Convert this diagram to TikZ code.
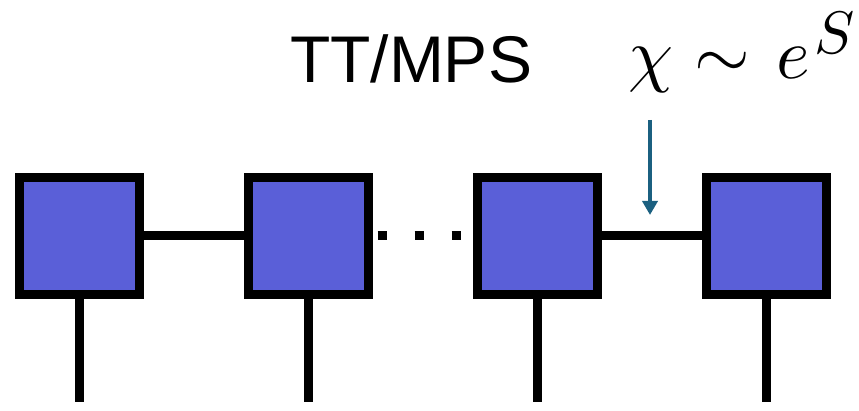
\documentclass[tikz,border=0pt]{standalone}
\usepackage{fontspec}
\setmainfont{Liberation Sans}
\usepackage{unicode-math}
\setmathfont{Latin Modern Math}
\usetikzlibrary{arrows.meta}
\definecolor{boxblue}{RGB}{90,95,216}
\definecolor{arrowteal}{RGB}{27,96,128}
\tikzset{
  tensor/.style={draw=black, fill=boxblue, line width=9pt, minimum width=120pt, minimum height=117pt, inner sep=0pt, outer sep=0pt},
  bond/.style={line width=9pt, black},
  pointer/.style={line width=3.5pt, arrowteal, -{Triangle[width=15pt,length=14pt]}}
}
\begin{document}
\begin{tikzpicture}[x=1pt,y=-1pt]
\useasboundingbox (0,0) rectangle (859,411);
\node[tensor] (A) at (79.5,236) {};
\node[tensor] (B) at (308.5,236) {};
\node[tensor] (C) at (537,236) {};
\node[tensor] (D) at (766.5,236) {};
\coordinate (a) at (79.5,402);
\coordinate (b) at (308.5,402);
\coordinate (c) at (537,402);
\coordinate (d) at (766.5,402);
\draw[bond] (A.south) -- (a);
\draw[bond] (B.south) -- (b);
\draw[bond] (C.south) -- (c);
\draw[bond] (D.south) -- (d);
\draw[bond] (A.east) -- (B.west);
\draw[bond] (C.east) -- (D.west);
\draw[bond, dash pattern=on 9pt off 28pt, dash phase=28pt] (B.east) -- (C.west);
\node[font=\fontsize{66}{70}\selectfont, inner sep=0pt] (title) at (411,59) {TT/MPS};
\node[inner sep=0pt, anchor=base west] (chi) at (628,79) {\fontsize{72}{80}\selectfont\rlap{$\chi$}\kern66pt\rlap{$\sim$}\kern82pt\rlap{$e$}\kern38pt\raisebox{25pt}{\fontsize{60}{60}\selectfont$S$}};
\coordinate (ptop) at (650,120);
\coordinate (pend) at (650,215);
\draw[pointer] (ptop) -- (pend);
\end{tikzpicture}
\end{document}
